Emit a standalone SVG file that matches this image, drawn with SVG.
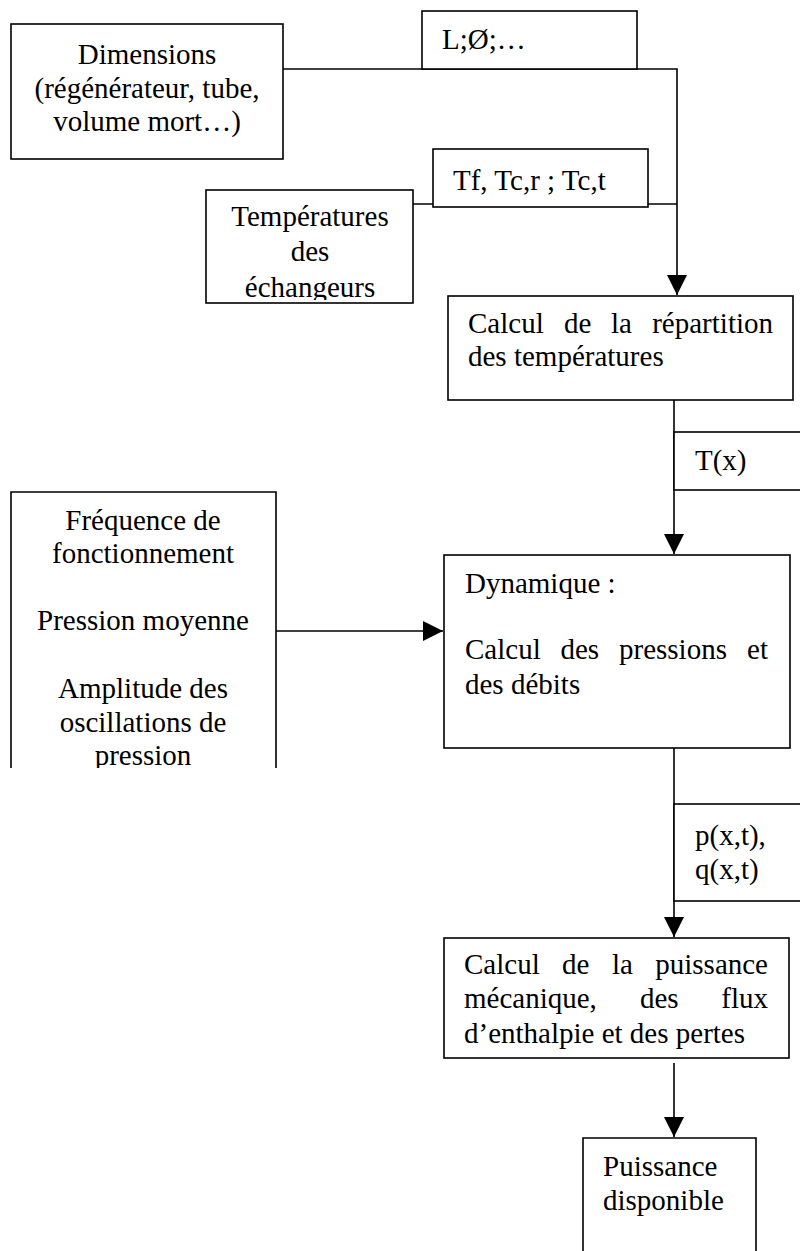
<svg xmlns="http://www.w3.org/2000/svg" width="800" height="1251" viewBox="0 0 800 1251">
<style>
.box{fill:#fff;stroke:#000;stroke-width:1.6}
.side{fill:none;stroke:#000;stroke-width:1.6}
.t{font-family:"Liberation Serif","Times New Roman",serif;font-size:29px;fill:#000}
.c{text-anchor:middle}
.e{text-anchor:end}
.ln{fill:none;stroke:#000;stroke-width:1.6}
</style>
<defs>
<marker id="arr" markerUnits="userSpaceOnUse" markerWidth="20" markerHeight="20" viewBox="0 0 20 20" refX="20" refY="10" orient="auto">
<path d="M0,0 L20,10 L0,20 Z" fill="#000"/>
</marker>
<clipPath id="clipTemp"><rect x="200" y="185" width="220" height="115"/></clipPath>
<clipPath id="clipFreq"><rect x="0" y="485" width="290" height="283"/></clipPath>
</defs>

<g id="connectors">
<path class="ln" d="M283,69 H677 V295" marker-end="url(#arr)"/>
<path class="ln" d="M413,204 H677"/>
<path class="ln" d="M674,400 V554" marker-end="url(#arr)"/>
<path class="ln" d="M276,631 H443" marker-end="url(#arr)"/>
<path class="ln" d="M674,748 V937" marker-end="url(#arr)"/>
<path class="ln" d="M674,1063 V1137" marker-end="url(#arr)"/>
</g>

<g id="dimensions">
<rect class="box" x="11" y="24" width="272" height="135"/>
<text class="t c" x="147" y="64">Dimensions</text>
<text class="t c" x="147" y="97.5">(régénérateur, tube,</text>
<text class="t c" x="147" y="131">volume mort…)</text>
</g>

<g id="label-dims">
<rect class="box" x="422" y="11" width="215" height="58"/>
<text class="t" x="442" y="49">L;Ø;…</text>
</g>

<g id="label-temps">
<rect class="box" x="433" y="149" width="215" height="58"/>
<text class="t" x="453" y="190">Tf, Tc,r ; Tc,t</text>
</g>

<g id="temperatures">
<rect class="box" x="206" y="190" width="207" height="113"/>
<g clip-path="url(#clipTemp)">
<text class="t c" x="310" y="226">Températures</text>
<text class="t c" x="310" y="261">des</text>
<text class="t c" x="310" y="297">échangeurs</text>
</g>
</g>

<g id="repartition">
<rect class="box" x="448" y="296" width="345" height="104"/>
<text class="t" y="333"><tspan x="468">Calcul</tspan><tspan x="564">de</tspan><tspan x="611">la</tspan></text>
<text class="t e" x="773" y="333">répartition</text>
<text class="t" x="468" y="366">des températures</text>
</g>

<g id="label-tx">
<rect class="box" x="674" y="432" width="140" height="58"/>
<text class="t" x="695" y="470">T(x)</text>
</g>

<g id="frequence">
<path class="side" d="M11,768 V492 H276 V768"/>
<g clip-path="url(#clipFreq)">
<text class="t c" x="143" y="530">Fréquence de</text>
<text class="t c" x="143" y="563">fonctionnement</text>
<text class="t c" x="143" y="630">Pression moyenne</text>
<text class="t c" x="143" y="698">Amplitude des</text>
<text class="t c" x="143" y="732">oscillations de</text>
<text class="t c" x="143" y="765">pression</text>
</g>
</g>

<g id="dynamique">
<rect class="box" x="444" y="555" width="346" height="193"/>
<text class="t" x="465" y="593">Dynamique :</text>
<text class="t" y="659"><tspan x="465">Calcul</tspan><tspan x="560.5">des</tspan><tspan x="619">pressions</tspan></text>
<text class="t e" x="768" y="659">et</text>
<text class="t" x="465" y="694">des débits</text>
</g>

<g id="label-pq">
<rect class="box" x="674" y="804" width="140" height="97"/>
<text class="t" x="695" y="845">p(x,t),</text>
<text class="t" x="695" y="879">q(x,t)</text>
</g>

<g id="puissance-calc">
<rect class="box" x="444" y="938" width="345" height="120"/>
<text class="t" y="974"><tspan x="464">Calcul</tspan><tspan x="562">de</tspan><tspan x="612">la</tspan></text>
<text class="t e" x="768" y="974">puissance</text>
<text class="t" y="1008"><tspan x="464">mécanique,</tspan><tspan x="640">des</tspan></text>
<text class="t e" x="768" y="1008">flux</text>
<text class="t" x="464" y="1043">d’enthalpie et des pertes</text>
</g>

<g id="puissance-dispo">
<path class="side" d="M583,1251 V1138 H756 V1251"/>
<text class="t" x="603" y="1176">Puissance</text>
<text class="t" x="603" y="1210">disponible</text>
</g>
</svg>
